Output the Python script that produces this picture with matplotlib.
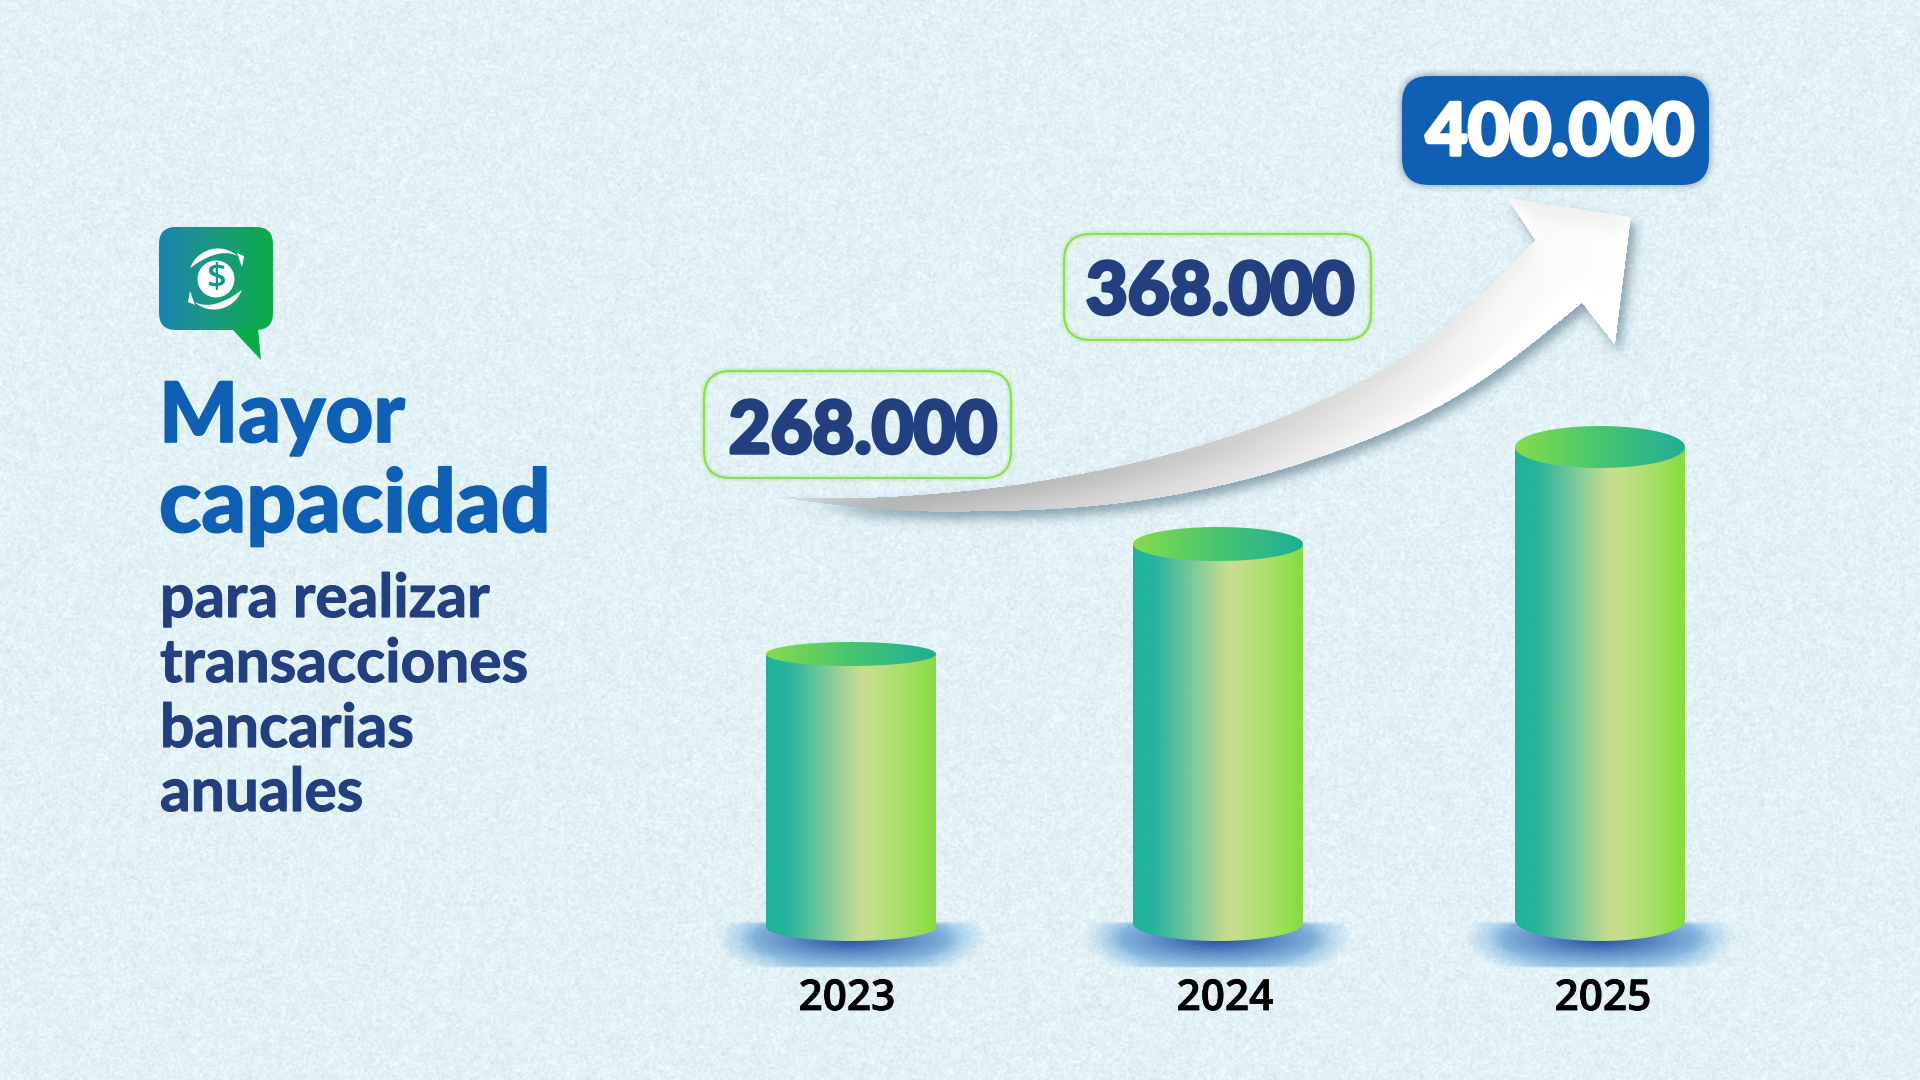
import numpy as np
import matplotlib
matplotlib.use("Agg")
import matplotlib.pyplot as plt
import matplotlib.patheffects as pe
from matplotlib.colors import LinearSegmentedColormap, to_rgb
from matplotlib.patches import FancyBboxPatch, Polygon, Circle
from matplotlib.path import Path

# chart data
years = ["2023", "2024", "2025"]
value_labels = ["268.000", "368.000", "400.000"]
bar_heights = [287, 397, 494]  # drawn height of each cylinder, the picture is not to scale

title_lines = ["Mayor", "capacidad"]
body_lines = ["para realizar", "transacciones", "bancarias", "anuales"]

W, H = 1920, 1080
BLUE = "#0f5fb5"
NAVY = "#233f7f"
LIME = "#8edc52"
BASE = 941

rng = np.random.default_rng(3)


def blur(img, sigma):
    # gaussian blur done in fourier space, no scipy here
    fy = np.fft.fftfreq(img.shape[0])[:, None]
    fx = np.fft.rfftfreq(img.shape[1])[None, :]
    k = np.exp(-2 * (np.pi * sigma) ** 2 * (fx ** 2 + fy ** 2))
    return np.fft.irfft2(np.fft.rfft2(img) * k, s=img.shape)


def chaikin(pts, n=4):
    pts = np.asarray(pts, float)
    for _ in range(n):
        a, b = pts[:-1], pts[1:]
        mid = np.empty((2 * len(a), 2))
        mid[0::2] = 0.75 * a + 0.25 * b
        mid[1::2] = 0.25 * a + 0.75 * b
        pts = np.vstack([pts[0], mid, pts[-1]])
    return pts


def ellipse_pts(cx, cy, rx, ry, t0, t1, n=80):
    t = np.linspace(t0, t1, n)
    return np.column_stack([cx + rx * np.cos(t), cy + ry * np.sin(t)])


fig = plt.figure(figsize=(19.2, 10.8), dpi=100)
ax = fig.add_axes([0, 0, 1, 1])
ax.set_xlim(0, W)
ax.set_ylim(H, 0)
ax.axis("off")

# paper grain background
grain = blur(rng.normal(size=(H, W)), 0.8)
grain = grain / grain.std()
grain2 = blur(rng.normal(size=(H, W)), 2.5)
grain2 = grain2 / grain2.std()
bg = np.zeros((H, W, 3))
base = np.array(to_rgb("#e2f2f7"))
for i in range(3):
    bg[..., i] = base[i] + grain * 0.015 + grain2 * 0.004
ax.imshow(np.clip(bg, 0, 1), extent=(0, W, H, 0), aspect="auto", zorder=0)
ax.set_xlim(0, W)
ax.set_ylim(H, 0)

# icon, speech bubble with gradient
icon_cmap = LinearSegmentedColormap.from_list("icon", ["#1b83ad", "#1a9a80", "#0cab48"])
bubble = FancyBboxPatch((159, 227), 114, 103, boxstyle="round,pad=0,rounding_size=17",
                        fc="none", ec="none", zorder=2)
ax.add_patch(bubble)
im = ax.imshow(np.linspace(0, 1, 200)[None, :], cmap=icon_cmap, extent=(159, 273, 362, 227),
               aspect="auto", zorder=2)
tail = Polygon([(231, 328), (258, 328), (261, 360)], fc="#0cab48", ec="none", zorder=2)
ax.add_patch(tail)
im.set_clip_path(bubble)
ax.add_patch(Circle((216, 279), 18.5, fc="white", ec="none", zorder=3))
ax.text(216, 279.5, "$", color="#15988a", fontsize=25, fontweight="semibold", family="Open Sans",
        ha="center", va="center", zorder=4)
# the two swirling arrows round the coin, tapered crescents
for sign in (1, -1):
    outer = ellipse_pts(2, -1, 29.5, 29.5, np.radians(200), np.radians(312), 40)
    t = np.linspace(0, 1, 40)
    inner = (outer - (2, -1)) * (1 - (6.5 / 29.5) * np.sin(np.pi * t ** 0.8))[:, None] + (2, -1)
    arc = np.vstack([outer, inner[::-1]]) * sign + (216, 279)
    ax.add_patch(Polygon(arc, fc="white", ec="none", zorder=3))
    head = np.array([(21, -26), (28, -23), (26, -12)], float) * sign + (216, 279)
    ax.add_patch(Polygon(head, fc="white", ec="none", zorder=3))

# left text block
for txt, y, fs in zip(title_lines, [442, 532], [60, 63]):
    ax.text(159, y, txt, color=BLUE, fontsize=fs, family="Lato", fontweight="black",
            va="baseline", ha="left", zorder=3,
            path_effects=[pe.withStroke(linewidth=1.2, foreground=BLUE)])
for txt, y in zip(body_lines, [617, 682, 747, 811]):
    ax.text(160, y, txt, color=NAVY, fontsize=43.5, family="Lato", fontweight="bold",
            va="baseline", ha="left", zorder=3,
            path_effects=[pe.withStroke(linewidth=0.8, foreground=NAVY)])

# arrow, built as a raster mask for the soft shadow and the clipped gradient
upper = [(776, 497), (860, 499), (952, 493), (1034, 483), (1144, 462), (1254, 430),
         (1363, 383), (1446, 330), (1535, 240)]
lower = [(1582, 303), (1500, 370), (1418, 420), (1308, 463), (1199, 492), (1089, 508),
         (979, 512), (880, 511), (776, 497)]
head_pts = [(1535, 240), (1507, 198), (1631, 217), (1615, 345), (1582, 303)]
outline = np.vstack([chaikin(upper), head_pts[1:], chaikin(lower)])
arrow_path = Path(np.vstack([outline, outline[0]]), closed=True)

xx, yy = np.meshgrid(np.arange(W) + 0.5, np.arange(H) + 0.5)
mask = arrow_path.contains_points(np.column_stack([xx.ravel(), yy.ravel()])).reshape(H, W).astype(float)
fade = np.clip((xx - 776) / 150, 0, 1) ** 0.6
shadow = blur(np.roll(np.roll(mask, 7, axis=0), 5, axis=1), 5.5) * 0.6 * np.clip((xx - 780) / 90, 0, 1)
sh_rgba = np.dstack([np.full_like(mask, c) for c in to_rgb("#4f6f80")] + [np.clip(shadow, 0, 1)])
ax.imshow(sh_rgba, extent=(0, W, H, 0), aspect="auto", zorder=4)

stops_x = [776, 1000, 1200, 1350, 1500, 1630]
stops_v = [0.66, 0.76, 0.84, 0.91, 0.975, 1.0]
shade = np.interp(xx, stops_x, stops_v)
# ribbon is darker on its top side and lighter towards the lower edge
across = blur(np.roll(mask, 14, axis=0), 9) - blur(np.roll(mask, -14, axis=0), 9)
shade = np.clip(shade + across * 0.05, 0, 1)
arrow_rgba = np.dstack([shade, shade, shade, mask * fade])
ax.imshow(np.clip(arrow_rgba, 0, 1), extent=(0, W, H, 0), aspect="auto", zorder=5,
          interpolation="bilinear")

# cylinders
cyl_cmap = LinearSegmentedColormap.from_list(
    "cyl", [(0, "#1fb29b"), (0.13, "#29b49b"), (0.36, "#7dca9b"), (0.56, "#c9dd90"),
            (0.62, "#c3df8a"), (0.82, "#a6e064"), (1, "#87dc41")])
cap_cmap = LinearSegmentedColormap.from_list("cap", ["#84dc4c", "#47c670", "#1fae98"])
gap_x = [766, 1133, 1515]
bar_w = 170
cap_ry = [12, 17, 21]
foot_ry = [14, 18, 21]
year_x = [847, 1225, 1603]
grad = np.linspace(0, 1, 300)[None, :]

for i, year in enumerate(years):
    x0 = gap_x[i]
    x1 = x0 + bar_w
    cx = (x0 + x1) / 2
    top = BASE - bar_heights[i]
    foot = BASE - foot_ry[i]

    # blue floor shadow, flat along its top and lower edge, darkest under the cylinder
    d = np.sqrt(((xx - cx) / 136) ** 2 + ((yy - 938) / 44) ** 2)
    wide = np.clip((1 - d) / 0.3, 0, 1) * 0.6
    core = np.clip(1 - np.sqrt(((xx - cx) / 112) ** 2 + ((yy - 939) / 26) ** 2), 0, 1) ** 0.9
    a = 1 - (1 - wide) * (1 - core * 0.95)
    a = a * np.clip((yy - 921) / 3, 0, 1) * np.clip((968 - yy) / 2, 0, 1)
    sel = (yy[:, 0] > 915) & (yy[:, 0] < 975)
    colour = np.array(to_rgb("#5c9fd6"))[None, None, :] * (1 - core[..., None]) \
        + np.array(to_rgb("#1c469c"))[None, None, :] * core[..., None]
    floor = np.dstack([colour, a])
    ax.imshow(floor[sel], extent=(0, W, 975, 915), aspect="auto", zorder=6, interpolation="bilinear")

    # body: rectangle with elliptic bottom
    body = np.vstack([[(x0, top)], [(x1, top)],
                      ellipse_pts(cx, foot, bar_w / 2, foot_ry[i], 0, np.pi), [(x0, top)]])
    clip = Polygon(body, fc="none", ec="none", transform=ax.transData)
    ax.add_patch(clip)
    im = ax.imshow(grad, cmap=cyl_cmap, extent=(x0, x1, BASE + 1, top), aspect="auto", zorder=7,
                   interpolation="bilinear")
    im.set_clip_path(clip)

    # top ellipse
    cap = Polygon(ellipse_pts(cx, top, bar_w / 2, cap_ry[i], 0, 2 * np.pi), fc="none", ec="none")
    ax.add_patch(cap)
    im = ax.imshow(grad, cmap=cap_cmap, extent=(x0, x1, top + cap_ry[i], top - cap_ry[i]),
                   aspect="auto", zorder=8, interpolation="bilinear")
    im.set_clip_path(cap)

    ax.text(year_x[i], 1010, year, color="black", fontsize=30.5, family="Open Sans",
            fontweight="semibold", ha="center", va="baseline", zorder=9,
            path_effects=[pe.withStroke(linewidth=0.6, foreground="black")])

# value labels
label_boxes = [(704, 371, 307, 107), (1064, 234, 307, 106), (1402, 76, 307, 109)]
label_base = [453, 314, 155]
label_cx = [863, 1220, 1560]

for i, lab in enumerate(value_labels):
    bx, by, bw, bh = label_boxes[i]
    style = "round,pad=0,rounding_size=27"
    if i < 2:
        ax.add_patch(FancyBboxPatch((bx, by), bw, bh, boxstyle=style, fc="none", ec=LIME,
                                    lw=5, alpha=0.18, zorder=9))
        ax.add_patch(FancyBboxPatch((bx, by), bw, bh, boxstyle=style, fc="none", ec=LIME,
                                    lw=1.6, zorder=10))
        col = NAVY
    else:
        for lw, al in [(9, 0.05), (6, 0.07), (3, 0.10)]:
            ax.add_patch(FancyBboxPatch((bx, by), bw, bh, boxstyle=style, fc="none", ec="#20405f",
                                        lw=lw, alpha=al, zorder=9))
        ax.add_patch(FancyBboxPatch((bx, by), bw, bh, boxstyle=style, fc=BLUE, ec="none", zorder=10))
        col = "white"
    ax.text(label_cx[i], label_base[i], lab, color=col, fontsize=52, family="Lato", fontweight="black",
            ha="center", va="baseline", zorder=11,
            path_effects=[pe.withStroke(linewidth=2.5, foreground=col)])

ax.set_xlim(0, W)
ax.set_ylim(H, 0)
fig.savefig("out.png", dpi=100)
